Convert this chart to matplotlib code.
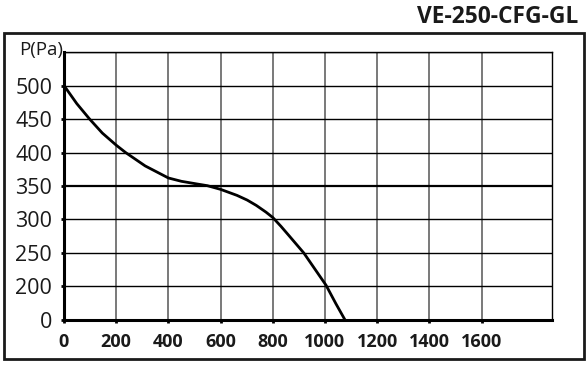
import numpy as np
import matplotlib
matplotlib.use('Agg')
import matplotlib.pyplot as plt
from matplotlib.patches import Rectangle

# fan curve
flow = [0, 49, 98, 147, 200, 236, 311, 400, 450, 510, 549, 600, 663, 702, 737,
        774, 800, 831, 862, 919, 965, 1004, 1042, 1077]
pressure = [500, 473, 450, 429, 411, 400, 380, 362, 357, 353, 350.5, 345, 336, 329, 321,
            311, 303, 290, 276, 250, 224, 202, 97, 0]

x_ticks = [0, 200, 400, 600, 800, 1000, 1200, 1400, 1600]
y_ticks = [0, 200, 250, 300, 350, 400, 450, 500]
y_levels = [0, 200, 250, 300, 350, 400, 450, 500, 550]  # each row of the grid is one step

title = 'VE-250-CFG-GL'
y_name = 'P(Pa)'

plt.rcParams['font.family'] = ['Open Sans', 'DejaVu Sans']

rows = np.arange(len(y_levels), dtype=float)

def fwd(p):
    return np.interp(p, y_levels, rows)

def inv(r):
    return np.interp(r, rows, y_levels)

fig = plt.figure(figsize=(5.88, 3.66), dpi=100)
ax = fig.add_axes([0.1088, 0.1257, 0.8300, 0.7322])
ax.set_yscale('function', functions=(fwd, inv))

ax.plot(flow, pressure, color='black', linewidth=2, solid_joinstyle='round', zorder=3)

ax.set_xlim(0, 1870)
ax.set_ylim(0, 557)
ax.set_xticks(x_ticks)
ax.set_yticks(y_ticks)
ax.set_xticklabels([str(v) for v in x_ticks], fontsize=13, fontweight='bold', color='#1a1a1a')
ax.set_yticklabels([str(v) for v in y_ticks], fontsize=15.5, color='#1a1a1a')
ax.yaxis.set_minor_locator(matplotlib.ticker.NullLocator())

for v in x_ticks[1:]:
    ax.axvline(v, color='#555555', linewidth=1.1, zorder=1)
for v in y_ticks[1:]:
    ax.axhline(v, color='black', linewidth=1.6 if v == 350 else 1.0, zorder=1)
ax.axhline(550, color='black', linewidth=1.0, zorder=1)

ax.tick_params(axis='x', length=2.5, width=2, pad=7, color='black')
ax.tick_params(axis='y', length=2.5, width=2, pad=6, color='black')

ax.spines['left'].set_linewidth(2.2)
ax.spines['bottom'].set_linewidth(2.2)
ax.spines['top'].set_linewidth(1.0)
ax.spines['right'].set_linewidth(1.0)

fig.text(0.983, 0.953, title, ha='right', va='center', fontsize=16.4, fontweight='bold', color='#1a1a1a')
fig.text(0.032, 0.863, y_name, ha='left', va='center', fontsize=13.5, color='#1a1a1a')

fig.patches.append(Rectangle((0.0068, 0.019), 0.986, 0.891, transform=fig.transFigure,
                             fill=False, edgecolor='#1a1a1a', linewidth=2))

fig.savefig('out.png', dpi=100)
